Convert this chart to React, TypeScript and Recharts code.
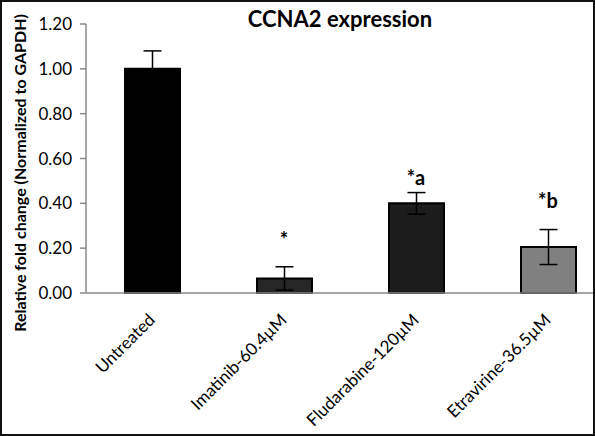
import React from 'react';
import { BarChart, Bar, XAxis, YAxis, ErrorBar, Cell, ReferenceDot } from 'recharts';

// CCNA2 qPCR results, fold change relative to untreated cells
const categories = ['Untreated', 'Imatinib-60.4µM', 'Fludarabine-120µM', 'Etravirine-36.5µM'];
const foldChange = [1.0, 0.065, 0.4, 0.205];
const errors = [0.08, 0.052, 0.048, 0.078];
const significance = ['', '*', '*a', '*b'];
// y value at which each significance mark sits
const significanceLevel = [0, 0.205, 0.482, 0.38];
const yTicks = [0, 0.2, 0.4, 0.6, 0.8, 1.0, 1.2];

const palette = ['#000000', '#262626', '#1c1c1c', '#808080'];
const FONT = 'Lato, Carlito, Calibri, sans-serif';

const rows = categories.map((name, i) => ({ name, value: foldChange[i], err: errors[i] }));

const CategoryTick = ({ x, y, payload }: any) => {
    const tx = x + 4;
    const ty = y + 28;
    return (
        <text
            x={tx}
            y={ty}
            transform={`rotate(-45, ${tx}, ${ty})`}
            textAnchor="end"
            fontFamily={FONT}
            fontSize={17}
            fill="#000"
        >
            {payload.value}
        </text>
    );
};

const SignificanceMark = (text: string) => (props: any) => (
    <text
        x={props.cx}
        y={props.cy}
        textAnchor="middle"
        fontFamily={FONT}
        fontWeight="bold"
        fontSize={20}
        fill="#000"
    >
        {text}
    </text>
);

const App: React.FC = () => {
    return (
        <div
            style={{
                position: 'absolute',
                top: 0,
                left: 0,
                width: 595,
                height: 436,
                overflow: 'hidden',
                background: '#fff',
            }}
        >
            <BarChart
                width={620}
                height={436}
                data={rows}
                margin={{ top: 24, right: 6, bottom: 0, left: 0 }}
                barSize={55}
            >
                <XAxis
                    dataKey="name"
                    height={143}
                    interval={0}
                    tickLine={false}
                    tickSize={0}
                    tickMargin={0}
                    axisLine={{ stroke: '#8a8a8a', strokeWidth: 1.5 }}
                    tick={<CategoryTick />}
                />
                <YAxis
                    width={86}
                    domain={[0, 1.2]}
                    ticks={yTicks}
                    interval={0}
                    tickFormatter={(v: number) => v.toFixed(2)}
                    tickSize={6}
                    tickMargin={8}
                    axisLine={{ stroke: '#8a8a8a', strokeWidth: 1.5 }}
                    tickLine={{ stroke: '#8a8a8a', strokeWidth: 1.5 }}
                    tick={{ fill: '#000', fontSize: 17, fontFamily: FONT }}
                />
                <Bar dataKey="value" stroke="#000" strokeWidth={2} isAnimationActive={false}>
                    {rows.map((r, i) => (
                        <Cell key={r.name} fill={palette[i]} />
                    ))}
                    <ErrorBar dataKey="err" direction="y" width={9} stroke="#000" strokeWidth={1.5} />
                </Bar>
                {significance.map((s, i) =>
                    s ? (
                        <ReferenceDot
                            key={categories[i]}
                            x={categories[i]}
                            y={significanceLevel[i]}
                            r={0}
                            shape={SignificanceMark(s)}
                        />
                    ) : null
                )}
                <text x={340} y={27} textAnchor="middle" fontFamily={FONT} fontWeight="bold" fontSize={22} fill="#000">
                    CCNA2 expression
                </text>
                <text
                    transform="translate(19, 173) rotate(-90)"
                    textAnchor="middle"
                    dominantBaseline="central"
                    fontFamily={FONT}
                    fontWeight="bold"
                    fontSize={16}
                    fill="#000"
                >
                    Relative fold change (Normalized to GAPDH)
                </text>
            </BarChart>
            <div
                style={{
                    position: 'absolute',
                    inset: 0,
                    border: '2px solid #111',
                    boxSizing: 'border-box',
                    pointerEvents: 'none',
                }}
            />
        </div>
    );
};

export default App;
